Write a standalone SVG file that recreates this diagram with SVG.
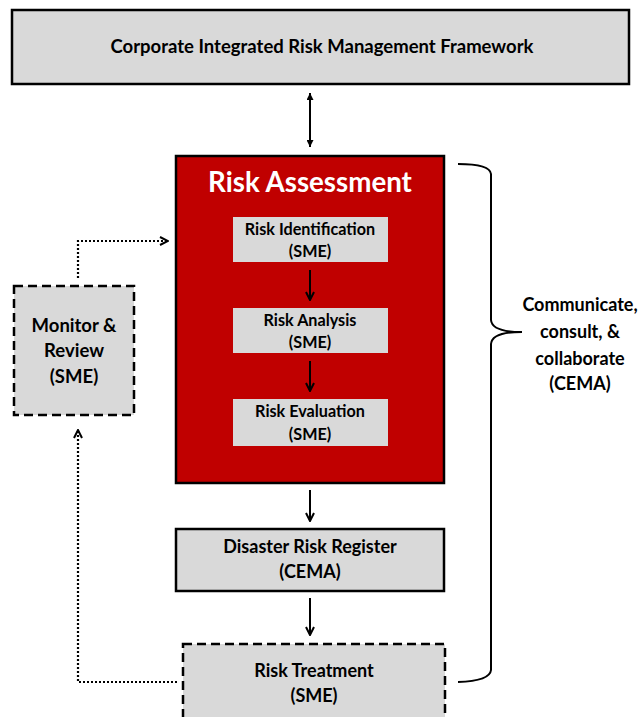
<svg xmlns="http://www.w3.org/2000/svg" width="641" height="717" viewBox="0 0 641 717">
<defs>
<style>
.t{font-family:Lato,"Liberation Sans",sans-serif;font-weight:bold;fill:#000;text-anchor:middle}
.box{fill:#d9d9d9;stroke:#000;stroke-width:2.5}
.dash{fill:#d9d9d9;stroke:#000;stroke-width:2.5;stroke-dasharray:9 5}
.inner{fill:#d9d9d9}
.ln{fill:none;stroke:#000;stroke-width:2}
.dot{fill:none;stroke:#000;stroke-width:2.2;stroke-dasharray:2 2}
</style>
<marker id="v" viewBox="0 0 10 10" refX="9" refY="5" markerWidth="10" markerHeight="10" markerUnits="userSpaceOnUse" orient="auto-start-reverse">
<path d="M1,1 L9,5 L1,9" fill="none" stroke="#000" stroke-width="2"/>
</marker>
<marker id="tri" viewBox="0 0 10 10" refX="10" refY="5" markerWidth="9" markerHeight="7" markerUnits="userSpaceOnUse" orient="auto-start-reverse">
<path d="M0,0 L10,5 L0,10 Z" fill="#000"/>
</marker>
</defs>
<rect width="641" height="717" fill="#fff"/>
<g id="framework">
<rect class="box" x="12" y="10" width="617" height="74"/>
<text class="t" x="322" y="53" font-size="18.5">Corporate Integrated Risk Management Framework</text>
</g>
<g id="risk-assessment">
<rect x="176" y="156" width="268" height="327" fill="#c00000" stroke="#000" stroke-width="2.5"/>
<text class="t" x="310" y="192" font-size="27.7" style="fill:#fff">Risk Assessment</text>
</g>
<g id="risk-identification">
<rect class="inner" x="233" y="217" width="155" height="45"/>
<text class="t" x="310" y="235" font-size="16.2">Risk Identification</text>
<text class="t" x="310" y="257" font-size="16.2">(SME)</text>
</g>
<g id="risk-analysis">
<rect class="inner" x="233" y="308" width="155" height="45"/>
<text class="t" x="310" y="326" font-size="16.2">Risk Analysis</text>
<text class="t" x="310" y="348" font-size="16.2">(SME)</text>
</g>
<g id="risk-evaluation">
<rect class="inner" x="233" y="399" width="155" height="47"/>
<text class="t" x="310" y="417" font-size="16.2">Risk Evaluation</text>
<text class="t" x="310" y="440" font-size="16.2">(SME)</text>
</g>
<g id="disaster-risk-register">
<rect class="box" x="176" y="529" width="268" height="62"/>
<text class="t" x="310" y="553" font-size="18">Disaster Risk Register</text>
<text class="t" x="310" y="578" font-size="18">(CEMA)</text>
</g>
<g id="risk-treatment">
<rect class="dash" x="183" y="644" width="262" height="90"/>
<text class="t" x="314" y="677" font-size="18">Risk Treatment</text>
<text class="t" x="314" y="702" font-size="18">(SME)</text>
</g>
<g id="monitor-review">
<rect class="dash" x="14" y="286" width="120" height="129"/>
<text class="t" x="74" y="332" font-size="18.5">Monitor &amp;</text>
<text class="t" x="74" y="357" font-size="18.5">Review</text>
<text class="t" x="74" y="383" font-size="18.5">(SME)</text>
</g>
<g id="communicate">
<text class="t" x="580" y="311" font-size="18">Communicate,</text>
<text class="t" x="580" y="338" font-size="18">consult, &amp;</text>
<text class="t" x="580" y="365" font-size="18">collaborate</text>
<text class="t" x="580" y="390" font-size="18">(CEMA)</text>
</g>
<g id="connectors">
<line class="ln" x1="310" y1="93" x2="310" y2="147" marker-start="url(#tri)" marker-end="url(#tri)"/>
<line class="ln" x1="310" y1="270" x2="310" y2="300" marker-end="url(#v)"/>
<line class="ln" x1="310" y1="361" x2="310" y2="391" marker-end="url(#v)"/>
<line class="ln" x1="310" y1="490" x2="310" y2="521" marker-end="url(#v)"/>
<line class="ln" x1="310" y1="598" x2="310" y2="635" marker-end="url(#v)"/>
<path class="dot" d="M78,278 V241 H168" marker-end="url(#v)"/>
<path class="dot" d="M177,682 H78 V430" marker-end="url(#v)"/>
<path class="ln" d="M458,164 Q490,164 491,174 V320 Q492,332 522,332 Q492,332 491,344 V670 Q490,681 458,682" stroke-width="2.5"/>
</g>
</svg>
